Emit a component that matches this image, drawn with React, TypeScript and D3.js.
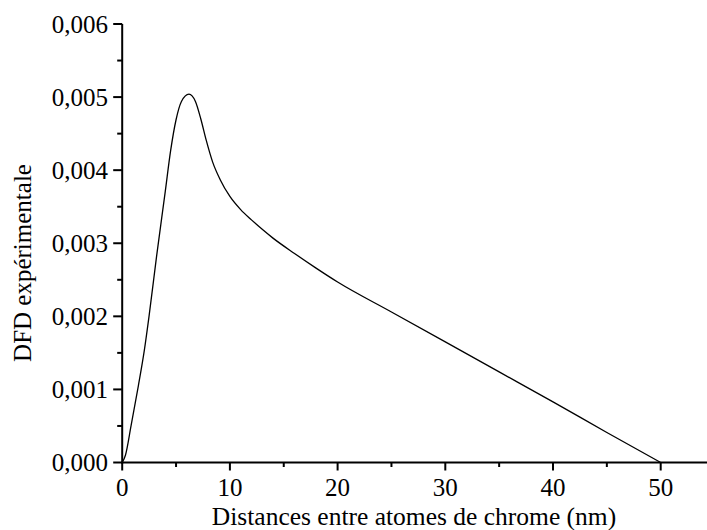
import React from "react";
import * as d3 from "d3";

const xs = [0, 0.3, 0.82, 1.5, 2.05, 2.5, 3.2, 4.0, 4.5, 5.0, 5.5, 6.2, 6.8, 7.3, 7.8, 8.4, 9.1, 10, 11, 12, 13, 14, 16, 18, 20, 25, 30, 35, 40, 45, 50];
const ys = [0, 0.0001, 0.0005, 0.00105, 0.00153, 0.00201, 0.00283, 0.00371, 0.00427, 0.00469, 0.00494, 0.00504, 0.00494, 0.0047, 0.00441, 0.00411, 0.00387, 0.00364, 0.00346, 0.00332, 0.00319, 0.00307, 0.00286, 0.00266, 0.00247, 0.00206, 0.00165, 0.00124, 0.00083, 0.00041, 0];
const xMajor = [0, 10, 20, 30, 40, 50];
const xMinor = [5, 15, 25, 35, 45];
const yMajor = [0, 0.001, 0.002, 0.003, 0.004, 0.005, 0.006];
const yMinor = [0.0005, 0.0015, 0.0025, 0.0035, 0.0045, 0.0055];

const W = 707, H = 530;
const FONT = "'Liberation Serif', 'Times New Roman', serif";

export default function App() {
  const x = d3.scaleLinear().domain([0, 50]).range([122.2, 660.7]);
  const y = d3.scaleLinear().domain([0, 0.006]).range([462.5, 24]);
  const data = xs.map((v, i) => [v, ys[i]] as [number, number]);
  const line = d3.line<[number, number]>().x(d => x(d[0])).y(d => y(d[1])).curve(d3.curveMonotoneX);
  const fmt = (v: number) => v.toFixed(3).replace(".", ",");
  return (
    <svg width={W} height={H} style={{ position: "absolute", left: 0, top: 0, background: "#fff" }} fontFamily={FONT}>
      <rect width={W} height={H} fill="#fff" />
      <path d={line(data) || ""} fill="none" stroke="#000" strokeWidth={1.3} />
      <line x1={x(0)} x2={x(0)} y1={y(0.006)} y2={y(0) + 1} stroke="#000" strokeWidth={2} />
      <line x1={x(0) - 1} x2={W} y1={y(0)} y2={y(0)} stroke="#000" strokeWidth={2} />
      {yMajor.map(v => (
        <g key={"ym" + v}>
          <line x1={x(0) - 9} x2={x(0)} y1={y(v)} y2={y(v)} stroke="#000" strokeWidth={2} />
          <text x={108} y={y(v)} dy="0.35em" textAnchor="end" fontSize={25}>{fmt(v)}</text>
        </g>
      ))}
      {yMinor.map(v => (
        <line key={"yn" + v} x1={x(0) - 5} x2={x(0)} y1={y(v)} y2={y(v)} stroke="#000" strokeWidth={2} />
      ))}
      {xMajor.map(v => (
        <g key={"xm" + v}>
          <line x1={x(v)} x2={x(v)} y1={y(0)} y2={y(0) + 8} stroke="#000" strokeWidth={2} />
          <text x={x(v)} y={496} textAnchor="middle" fontSize={25}>{v}</text>
        </g>
      ))}
      {xMinor.map(v => (
        <line key={"xn" + v} x1={x(v)} x2={x(v)} y1={y(0)} y2={y(0) + 4.5} stroke="#000" strokeWidth={2} />
      ))}
      <text x={414} y={525} textAnchor="middle" fontSize={25.5}>Distances entre atomes de chrome (nm)</text>
      <text transform={`translate(31,263) rotate(-90)`} textAnchor="middle" fontSize={25}>DFD expérimentale</text>
    </svg>
  );
}
